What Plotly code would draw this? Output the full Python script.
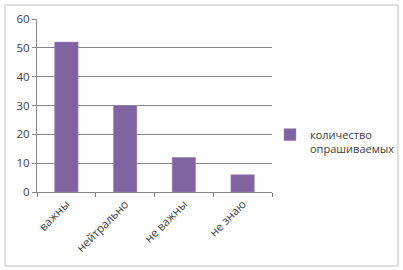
import plotly.graph_objects as go

categories = ["важны", "нейтрально", "не важны", "не знаю"]
values = [52, 30, 12, 6]
series_name = "количество<br>опрашиваемых"
y_ticks = [0, 10, 20, 30, 40, 50, 60]

W, H = 403, 270
L, R, T, B = 37, 131, 19, 78
pw, ph = W - L - R, H - T - B

def px(x):
    return (x - L) / pw

def py(y):
    return (H - B - y) / ph

fig = go.Figure()
fig.add_trace(go.Bar(
    x=categories, y=values, name=series_name,
    marker=dict(color="#8064A2", line=dict(color="#a08cc0", width=0.5)),
    showlegend=True,
))

font = dict(family="Open Sans, Liberation Sans, sans-serif", size=11, color="#404040")

fig.update_layout(
    width=W, height=H,
    margin=dict(l=L, r=R, t=T, b=B, autoexpand=False),
    paper_bgcolor="white", plot_bgcolor="white",
    font=font,
    bargap=0.6,
    showlegend=True,
    legend=dict(x=px(270), y=py(121), xanchor="left", yanchor="top",
                itemwidth=30, valign="top", font=dict(size=11, color="#404040"),
                bgcolor="rgba(0,0,0,0)"),
    xaxis=dict(showline=True, linecolor="#868686", linewidth=1,
               ticks="outside", tickson="boundaries", ticklen=4, tickcolor="#868686",
               tickangle=-45, showgrid=False, tickfont=dict(size=11.5)),
    yaxis=dict(range=[0, 60], tickvals=y_ticks, showline=True, linecolor="#868686",
               linewidth=1, ticks="outside", ticklen=4, tickcolor="#868686",
               showgrid=True, gridcolor="#868686", gridwidth=1, zeroline=False,
               tickfont=dict(size=11.5)),
    shapes=[dict(type="rect", xref="paper", yref="paper",
                 x0=px(5), x1=px(398), y0=py(266), y1=py(5),
                 line=dict(color="#bfbfbf", width=1), layer="below")],
)

fig.write_html("out.html")
